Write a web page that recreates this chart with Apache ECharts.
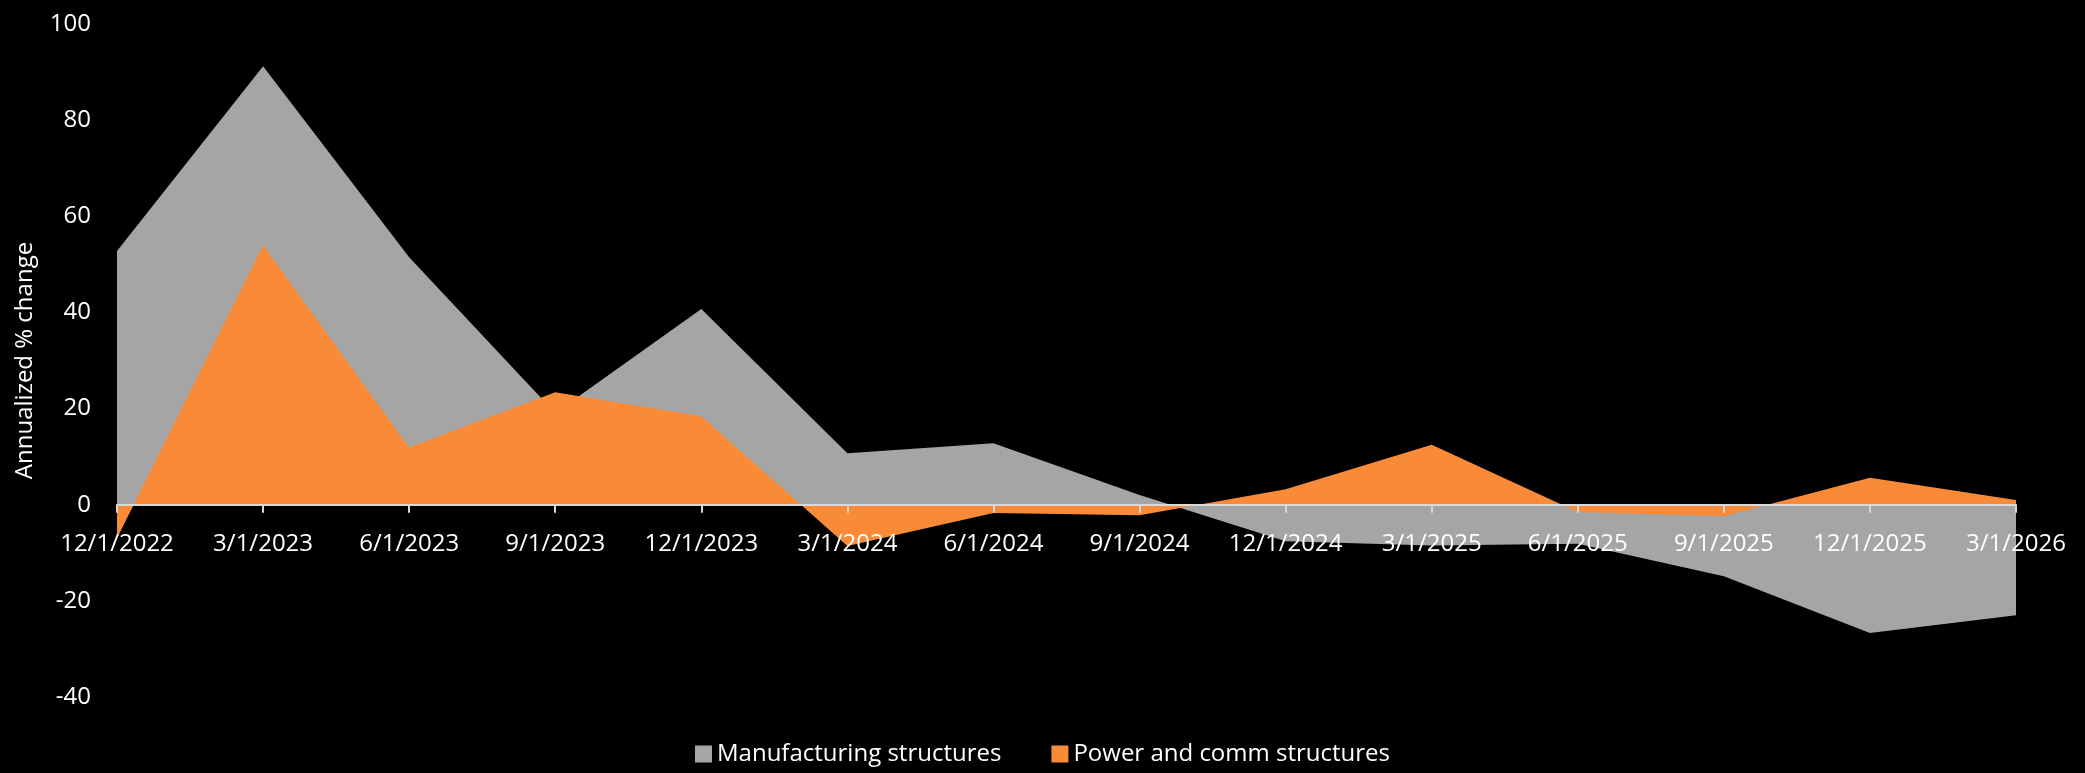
<!DOCTYPE html>
<html>
<head>
<meta charset="utf-8">
<script src="https://cdn.jsdelivr.net/npm/echarts@6/dist/echarts.min.js"></script>
<style>html,body{margin:0;padding:0;background:#000;}#c{width:2085px;height:773px;}</style>
</head>
<body>
<div id="c"></div>
<script>
const categories = ['12/1/2022','3/1/2023','6/1/2023','9/1/2023','12/1/2023','3/1/2024','6/1/2024','9/1/2024','12/1/2024','3/1/2025','6/1/2025','9/1/2025','12/1/2025','3/1/2026'];
const manufacturing = [52.8, 91.2, 51.5, 19.1, 40.7, 10.7, 12.8, 2.0, -7.6, -8.5, -8.1, -14.9, -26.7, -23.0];
const power = [-7.0, 54.0, 11.9, 23.4, 18.4, -8.6, -1.7, -2.2, 3.2, 12.5, -1.5, -2.4, 5.6, 1.0];
const yTicks = {min: -40, max: 100, interval: 20};

const W = 2085, H = 773;
const gridTop = 24, gridBottom = 76;
const plotH = H - gridTop - gridBottom;
// distance from the plot bottom up to the y=0 line, so the category axis sits on zero
const zeroOffset = -plotH * (0 - yTicks.min) / (yTicks.max - yTicks.min);

const font = '"Open Sans", sans-serif';
const chart = echarts.init(document.getElementById('c'));
chart.setOption({
  backgroundColor: '#000000',
  animation: false,
  textStyle: {fontFamily: font},
  grid: {left: 117, right: 69, top: gridTop, bottom: gridBottom, containLabel: false},
  legend: {
    bottom: 2, left: 'center',
    itemWidth: 17, itemHeight: 17, itemGap: 50,
    icon: 'rect',
    textStyle: {color: '#ffffff', fontSize: 24, fontFamily: font},
    data: ['Manufacturing structures', 'Power and comm structures']
  },
  xAxis: {
    type: 'category',
    data: categories,
    boundaryGap: false,
    offset: zeroOffset,
    z: 10,
    axisLine: {onZero: false, lineStyle: {color: '#d9d9d9', width: 2}},
    axisTick: {show: true, alignWithLabel: true, length: 8, lineStyle: {color: '#d9d9d9', width: 2}},
    axisLabel: {color: '#ffffff', fontSize: 24, margin: 27, interval: 0, fontFamily: font},
    splitLine: {show: false}
  },
  yAxis: {
    type: 'value',
    min: yTicks.min, max: yTicks.max, interval: yTicks.interval,
    name: 'Annualized % change',
    nameLocation: 'middle',
    nameGap: 80,
    nameTextStyle: {color: '#ffffff', fontSize: 24, fontFamily: font},
    axisLine: {show: false},
    axisTick: {show: false},
    splitLine: {show: false},
    axisLabel: {color: '#ffffff', fontSize: 24, margin: 26, fontFamily: font}
  },
  series: [
    {
      name: 'Manufacturing structures',
      type: 'line',
      data: manufacturing,
      symbol: 'none',
      lineStyle: {width: 0},
      itemStyle: {color: '#a5a5a5'},
      areaStyle: {color: '#a5a5a5', opacity: 1, origin: 0},
      z: 1
    },
    {
      name: 'Power and comm structures',
      type: 'line',
      data: power,
      symbol: 'none',
      lineStyle: {width: 0},
      itemStyle: {color: '#f98a38'},
      areaStyle: {color: '#f98a38', opacity: 1, origin: 0},
      z: 2
    }
  ]
});
</script>
</body>
</html>
